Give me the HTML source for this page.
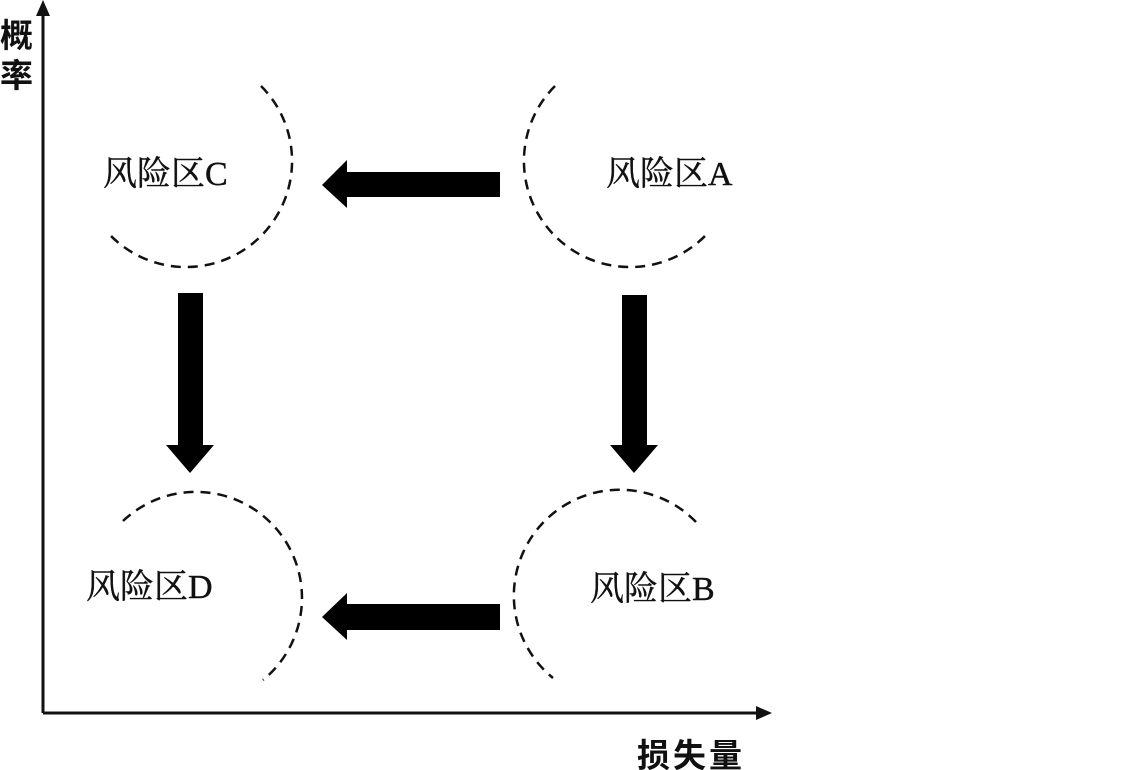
<!DOCTYPE html>
<html><head><meta charset="utf-8"><style>
html,body{margin:0;padding:0;background:#fff;}
svg{display:block;}
.l{font-family:"Liberation Serif","Noto Serif CJK SC",serif;font-size:34px;fill:#111;stroke:#111;stroke-width:0.4;}
.b{font-family:"Liberation Sans","Noto Sans CJK SC",sans-serif;font-size:33px;font-weight:bold;fill:#111;}
</style></head><body>
<svg width="1124" height="770" viewBox="0 0 1124 770" xmlns="http://www.w3.org/2000/svg">
<line x1="43" y1="713" x2="43" y2="14" stroke="#111" stroke-width="3"/>
<polygon points="43,0 36,16 50,16" fill="#111"/>
<line x1="43" y1="713" x2="758" y2="713" stroke="#111" stroke-width="3"/>
<polygon points="772,713 756,706 756,720" fill="#111"/>
<text class="b" x="0" y="47">概</text>
<text class="b" x="0" y="87">率</text>
<text class="b" x="637" y="767" letter-spacing="3">损失量</text>
<g fill="none" stroke="#111" stroke-width="2.5" stroke-dasharray="10,7">
<path d="M261,86 A106,106 0 1 1 111,236"/>
<path d="M555,86 A106,106 0 1 0 705,236"/>
<path d="M696,522 A106,106 0 1 0 553,678"/>
<path d="M123,521 A106,106 0 1 1 263,680"/>
</g>
<text class="l" x="103" y="185">风险区C</text>
<text class="l" x="606" y="185">风险区A</text>
<text class="l" x="86" y="598">风险区D</text>
<text class="l" x="590" y="600">风险区B</text>
<g fill="#000">
<polygon points="500,172 347,172 347,160 322,185 347,208 347,197 500,197"/>
<polygon points="500,604 347,604 347,593 322,617 347,640 347,630 500,630"/>
<polygon points="178,293 203,293 203,445 214,445 190,473 166,445 178,445"/>
<polygon points="622,295 647,295 647,445 658,445 634,473 610,445 622,445"/>
</g>
</svg>
</body></html>
